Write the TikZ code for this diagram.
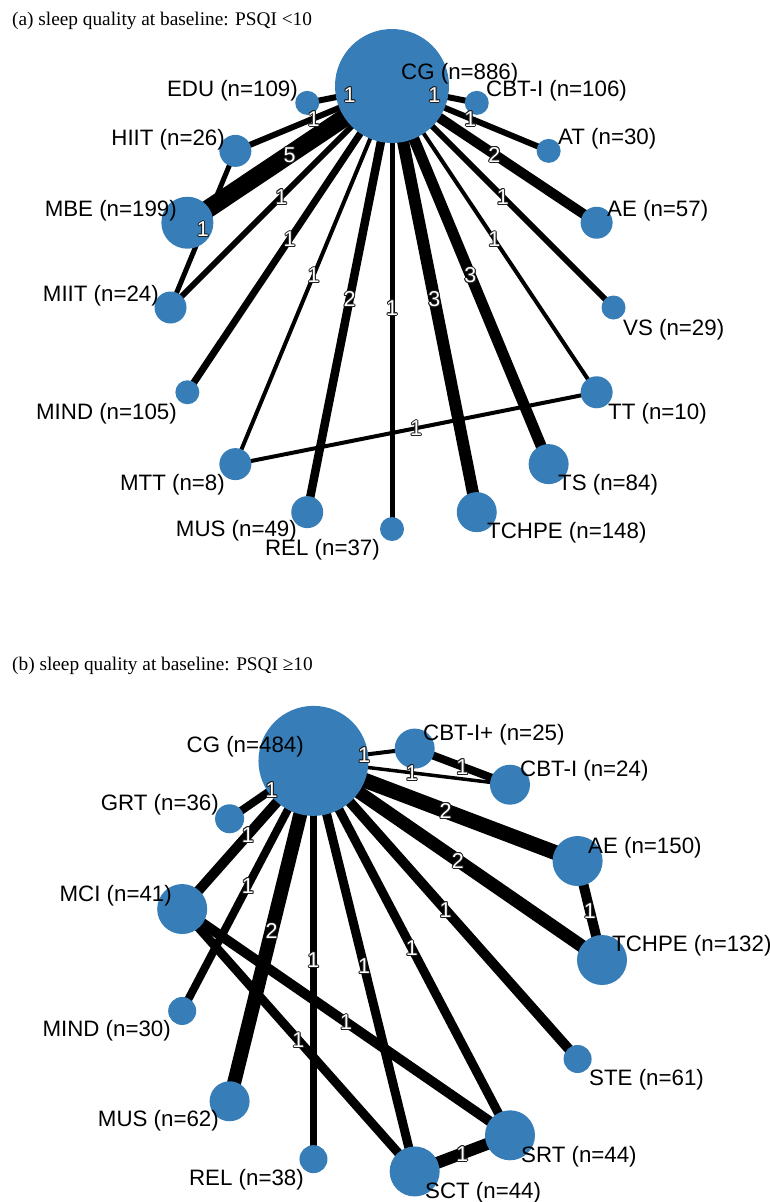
\documentclass[tikz,border=0pt]{standalone}
\usepackage{fontspec}
\setmainfont{Liberation Serif}
\newfontfamily\lsans{Liberation Sans}
\usetikzlibrary{calc}
\definecolor{nodeblue}{RGB}{55,126,184}
\definecolor{haloc}{RGB}{30,30,30}
\pgfdeclarelayer{bg}
\pgfdeclarelayer{edges}
\pgfdeclarelayer{labels}
\pgfsetlayers{bg,edges,main,labels}
\tikzset{
  dot/.style={circle, fill=nodeblue, draw=none, inner sep=0pt, minimum size=#1},
  nlab/.style={font=\lsans\fontsize{22.3}{24}\selectfont, inner sep=0pt, text height=16pt, text depth=0pt},
  elab/.style={font=\lsans\fontsize{21.5}{23}\selectfont, inner sep=0pt, text height=15.4pt, text depth=0pt, text=white},
  ptitle/.style={font=\fontsize{19.3}{22}\selectfont, inner sep=0pt, anchor=base west},
}
% white digit with a thin dark outline
\newcommand\olt[1]{\begingroup\setbox0\hbox{#1}%
  \rlap{\color{haloc}\kern1pt\copy0}\rlap{\color{haloc}\kern-1pt\copy0}%
  \rlap{\color{haloc}\raise1pt\copy0}\rlap{\color{haloc}\lower1pt\copy0}%
  \rlap{\color{haloc}\kern0.7pt\raise0.7pt\copy0}\rlap{\color{haloc}\kern-0.7pt\raise0.7pt\copy0}%
  \rlap{\color{haloc}\kern0.7pt\lower0.7pt\copy0}\rlap{\color{haloc}\kern-0.7pt\lower0.7pt\copy0}%
  \box0\endgroup}
% #1 from, #2 to, #3 width, #4 label text, #5 label name
\newcommand\netedge[5]{%
  \begin{pgfonlayer}{edges}\draw[line width=#3] (#1.center) -- (#2.center);\end{pgfonlayer}%
  \begin{pgfonlayer}{labels}\path (#1.center) -- (#2.center) node[elab, midway] (#5) {\olt{#4}};\end{pgfonlayer}%
}
\begin{document}
\begin{tikzpicture}[x=1pt, y=-1pt]
\begin{pgfonlayer}{bg}
\fill[white] (0,0) rectangle (769,1202);
\end{pgfonlayer}
\useasboundingbox (0,0) rectangle (769,1202);

% ---------- Panel (a) ----------
\node[ptitle] (ta) at (12,25) {(a) sleep quality at baseline: PSQI <10};
\def\ax{392}\def\ay{307.5}\def\aR{221.5}
\node[dot=114] (a-CG)    at ({\ax+\aR*cos(90)},{\ay-\aR*sin(90)}) {};
\node[dot=24]  (a-EDU)   at ({\ax+\aR*cos(112.5)},{\ay-\aR*sin(112.5)}) {};
\node[dot=32]  (a-HIIT)  at ({\ax+\aR*cos(135)},{\ay-\aR*sin(135)}) {};
\node[dot=52]  (a-MBE)   at ({\ax+\aR*cos(157.5)},{\ay-\aR*sin(157.5)}) {};
\node[dot=32]  (a-MIIT)  at ({\ax+\aR*cos(180)},{\ay-\aR*sin(180)}) {};
\node[dot=24]  (a-MIND)  at ({\ax+\aR*cos(202.5)},{\ay-\aR*sin(202.5)}) {};
\node[dot=32]  (a-MTT)   at ({\ax+\aR*cos(225)},{\ay-\aR*sin(225)}) {};
\node[dot=32]  (a-MUS)   at ({\ax+\aR*cos(247.5)},{\ay-\aR*sin(247.5)}) {};
\node[dot=24]  (a-REL)   at ({\ax+\aR*cos(270)},{\ay-\aR*sin(270)}) {};
\node[dot=40]  (a-TCHPE) at ({\ax+\aR*cos(292.5)},{\ay-\aR*sin(292.5)}) {};
\node[dot=40]  (a-TS)    at ({\ax+\aR*cos(315)},{\ay-\aR*sin(315)}) {};
\node[dot=32]  (a-TT)    at ({\ax+\aR*cos(337.5)},{\ay-\aR*sin(337.5)}) {};
\node[dot=24]  (a-VS)    at ({\ax+\aR*cos(0)},{\ay-\aR*sin(0)}) {};
\node[dot=32]  (a-AE)    at ({\ax+\aR*cos(22.5)},{\ay-\aR*sin(22.5)}) {};
\node[dot=24]  (a-AT)    at ({\ax+\aR*cos(45)},{\ay-\aR*sin(45)}) {};
\node[dot=24]  (a-CBTI)  at ({\ax+\aR*cos(67.5)},{\ay-\aR*sin(67.5)}) {};

\netedge{a-CG}{a-EDU}{6}{1}{ae1}
\netedge{a-CG}{a-CBTI}{6}{1}{ae2}
\netedge{a-CG}{a-HIIT}{6}{1}{ae3}
\netedge{a-CG}{a-MBE}{18}{5}{ae4}
\netedge{a-HIIT}{a-MIIT}{5}{1}{ae5}
\netedge{a-CG}{a-MIIT}{6}{1}{ae6}
\netedge{a-CG}{a-MIND}{7}{1}{ae7}
\netedge{a-CG}{a-MTT}{4}{1}{ae8}
\netedge{a-CG}{a-MUS}{8.5}{2}{ae9}
\netedge{a-CG}{a-REL}{5}{1}{ae10}
\netedge{a-CG}{a-TCHPE}{12}{3}{ae11}
\netedge{a-CG}{a-TS}{11}{3}{ae12}
\netedge{a-CG}{a-TT}{4}{1}{ae13}
\netedge{a-CG}{a-VS}{6}{1}{ae14}
\netedge{a-CG}{a-AE}{10}{2}{ae15}
\netedge{a-CG}{a-AT}{6}{1}{ae16}
\netedge{a-MTT}{a-TT}{4}{1}{ae17}

\begin{pgfonlayer}{labels}
\node[nlab, anchor=west] (al-CG)    at (401,71)  {CG (n=886)};
\node[nlab, anchor=east] (al-EDU)   at (298,88)  {EDU (n=109)};
\node[nlab, anchor=west] (al-CBTI)  at (486,88)  {CBT-I (n=106)};
\node[nlab, anchor=east] (al-HIIT)  at (225,137) {HIIT (n=26)};
\node[nlab, anchor=west] (al-AT)    at (558,136) {AT (n=30)};
\node[nlab, anchor=east] (al-MBE)   at (177,208) {MBE (n=199)};
\node[nlab, anchor=west] (al-AE)    at (607,208) {AE (n=57)};
\node[nlab, anchor=east] (al-MIIT)  at (159,293) {MIIT (n=24)};
\node[nlab, anchor=west] (al-VS)    at (623,327) {VS (n=29)};
\node[nlab, anchor=east] (al-MIND)  at (177,411) {MIND (n=105)};
\node[nlab, anchor=west] (al-TT)    at (608,411) {TT (n=10)};
\node[nlab, anchor=east] (al-MTT)   at (225,482) {MTT (n=8)};
\node[nlab, anchor=west] (al-TS)    at (558,482) {TS (n=84)};
\node[nlab, anchor=east] (al-MUS)   at (297,528) {MUS (n=49)};
\node[nlab, anchor=west] (al-TCHPE) at (487,530) {TCHPE (n=148)};
\node[nlab, anchor=east] (al-REL)   at (380,547) {REL (n=37)};
\end{pgfonlayer}

% ---------- Panel (b) ----------
\node[ptitle] (tb) at (12,670) {(b) sleep quality at baseline: PSQI ≥10};
\def\bx{389}\def\by{960}\def\bR{213}\def\bs{27.6923}
\node[dot=50]  (b-TCHPE) at ({\bx+\bR*cos(0*\bs)},{\by-\bR*sin(0*\bs)}) {};
\node[dot=50]  (b-AE)    at ({\bx+\bR*cos(1*\bs)},{\by-\bR*sin(1*\bs)}) {};
\node[dot=40]  (b-CBTI)  at ({\bx+\bR*cos(2*\bs)},{\by-\bR*sin(2*\bs)}) {};
\node[dot=40]  (b-CBTIp) at ({\bx+\bR*cos(3*\bs)},{\by-\bR*sin(3*\bs)}) {};
\node[dot=110] (b-CG)    at ({\bx+\bR*cos(4*\bs)},{\by-\bR*sin(4*\bs)}) {};
\node[dot=29]  (b-GRT)   at ({\bx+\bR*cos(5*\bs)},{\by-\bR*sin(5*\bs)}) {};
\node[dot=50]  (b-MCI)   at ({\bx+\bR*cos(6*\bs)},{\by-\bR*sin(6*\bs)}) {};
\node[dot=28]  (b-MIND)  at ({\bx+\bR*cos(7*\bs)},{\by-\bR*sin(7*\bs)}) {};
\node[dot=40]  (b-MUS)   at ({\bx+\bR*cos(8*\bs)},{\by-\bR*sin(8*\bs)}) {};
\node[dot=28]  (b-REL)   at ({\bx+\bR*cos(9*\bs)},{\by-\bR*sin(9*\bs)}) {};
\node[dot=50]  (b-SCT)   at ({\bx+\bR*cos(10*\bs)},{\by-\bR*sin(10*\bs)}) {};
\node[dot=50]  (b-SRT)   at ({\bx+\bR*cos(11*\bs)},{\by-\bR*sin(11*\bs)}) {};
\node[dot=28]  (b-STE)   at ({\bx+\bR*cos(12*\bs)},{\by-\bR*sin(12*\bs)}) {};

\netedge{b-CG}{b-CBTIp}{4}{1}{be1}
\netedge{b-CG}{b-CBTI}{3.5}{1}{be2}
\netedge{b-CBTIp}{b-CBTI}{8}{1}{be3}
\netedge{b-CG}{b-AE}{15}{2}{be4}
\netedge{b-CG}{b-TCHPE}{13}{2}{be5}
\netedge{b-AE}{b-TCHPE}{10}{1}{be6}
\netedge{b-CG}{b-STE}{10}{1}{be7}
\netedge{b-CG}{b-SRT}{9}{1}{be8}
\netedge{b-CG}{b-SCT}{9}{1}{be9}
\netedge{b-CG}{b-REL}{7}{1}{be10}
\netedge{b-CG}{b-MUS}{14}{2}{be11}
\netedge{b-CG}{b-MIND}{8}{1}{be12}
\netedge{b-CG}{b-MCI}{10}{1}{be13}
\netedge{b-CG}{b-GRT}{8}{1}{be14}
\netedge{b-MCI}{b-SRT}{10}{1}{be15}
\netedge{b-MCI}{b-SCT}{9}{1}{be16}
\netedge{b-SCT}{b-SRT}{12}{1}{be17}

\begin{pgfonlayer}{labels}
\node[nlab, anchor=east] (bl-CG)    at (304,744)  {CG (n=484)};
\node[nlab, anchor=west] (bl-CBTIp) at (423,732)  {CBT-I+ (n=25)};
\node[nlab, anchor=west] (bl-CBTI)  at (520,768)  {CBT-I (n=24)};
\node[nlab, anchor=east] (bl-GRT)   at (219,802)  {GRT (n=36)};
\node[nlab, anchor=west] (bl-AE)    at (588,845)  {AE (n=150)};
\node[nlab, anchor=east] (bl-MCI)   at (172,893)  {MCI (n=41)};
\node[nlab, anchor=west] (bl-TCHPE) at (612,943)  {TCHPE (n=132)};
\node[nlab, anchor=east] (bl-MIND)  at (171,1028) {MIND (n=30)};
\node[nlab, anchor=west] (bl-STE)   at (589,1077) {STE (n=61)};
\node[nlab, anchor=east] (bl-MUS)   at (219,1118) {MUS (n=62)};
\node[nlab, anchor=west] (bl-SRT)   at (521,1154) {SRT (n=44)};
\node[nlab, anchor=east] (bl-REL)   at (304,1177) {REL (n=38)};
\node[nlab, anchor=west] (bl-SCT)   at (425,1190) {SCT (n=44)};
\end{pgfonlayer}
\end{tikzpicture}
\end{document}
